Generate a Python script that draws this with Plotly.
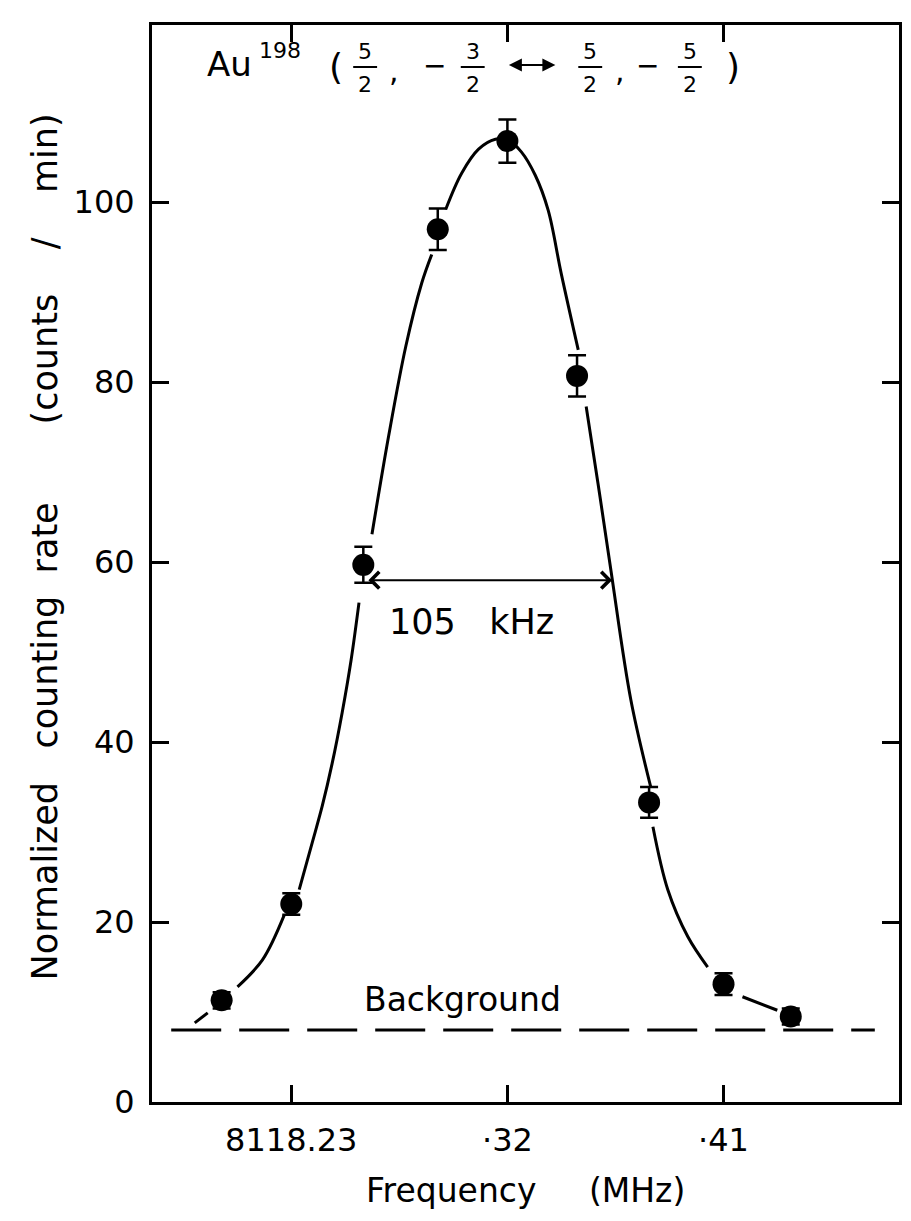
import plotly.graph_objects as go

# ---- data ----
freq = [8118.201, 8118.230, 8118.260, 8118.291, 8118.320, 8118.349, 8118.379, 8118.410, 8118.438]
rate = [11.3, 22.0, 59.7, 97.0, 106.8, 80.7, 33.3, 13.1, 9.5]
rate_err = [0.9, 1.2, 2.0, 2.3, 2.4, 2.3, 1.7, 1.2, 0.9]

# hand-drawn fitted curve (segments separated by None, drawn with gaps at the points)
curve_freq = [8118.1898, 8118.1952, None,
              8118.2076, 8118.2180, 8118.2271, None,
              8118.2333, 8118.2387, 8118.2429, 8118.2470, 8118.2512, 8118.2549, 8118.2582, None,
              8118.2636, 8118.2706, 8118.2777, 8118.2843, 8118.2885, None,
              8118.2943, 8118.3009, 8118.3080, 8118.3150, 8118.3204, 8118.3258, 8118.3316,
              8118.3370, 8118.3424, 8118.3495, None,
              8118.3528, 8118.3577, 8118.3631, 8118.3714, 8118.3797, None,
              8118.3806, 8118.3868, 8118.3951, 8118.4034, None,
              8118.4179, 8118.4324]
curve_rate = [8.8, 9.9, None,
              12.8, 15.8, 20.8, None,
              23.6, 28.8, 32.9, 37.6, 43.3, 49.1, 55.5, None,
              63.1, 74.1, 84.0, 91.0, 94.2, None,
              99.2, 103.2, 105.9, 107.0, 106.9, 105.6, 103.0,
              99.1, 92.1, 83.6, None,
              77.3, 68.8, 59.1, 44.7, 35.0, None,
              30.6, 23.6, 18.4, 15.0, None,
              11.7, 10.2]

background_freq = [8118.180, 8118.473]
background_rate = [8.0, 8.0]

fwhm_freq = [8118.2615, 8118.3636]
fwhm_rate = 58.0

x_tickvals = [8118.23, 8118.32, 8118.41]
x_ticktext = ["8118.23", "·32", "·41"]
y_tickvals = [0, 20, 40, 60, 80, 100, 120]

FONT = "DejaVu Sans"
NB = "\u00a0"

# ---- figure ----
fig = go.Figure()

fig.add_trace(go.Scatter(
    x=background_freq, y=background_rate, mode="lines",
    line=dict(color="black", width=3, dash="50px,18px"),
    hoverinfo="skip", showlegend=False))

fig.add_trace(go.Scatter(
    x=curve_freq, y=curve_rate, mode="lines",
    line=dict(color="black", width=3, shape="spline", smoothing=1.0),
    connectgaps=False, hoverinfo="skip", showlegend=False))

fig.add_trace(go.Scatter(
    x=freq, y=rate, mode="markers",
    marker=dict(color="black", size=22, symbol="circle"),
    error_y=dict(type="data", array=rate_err, visible=True,
                 color="black", thickness=2.5, width=9),
    showlegend=False))

# layout geometry (page pixels; the page body adds an 8px offset on every side)
OFF = 8
W, H = 911 - 2 * OFF, 1221 - 2 * OFF
L, R, T = 152 - OFF, 1, 25 - OFF
PW = W - L - R
PH = 1077
B = H - T - PH
X0 = 8118.172
X1 = X0 + PW / 2411.0


def px(xp):
    return (xp - OFF - L) / PW


def py(yp):
    return (H - B - (yp - OFF)) / PH


ann = []

# FWHM double arrow
ann.append(dict(x=fwhm_freq[1], y=fwhm_rate, ax=fwhm_freq[0], ay=fwhm_rate,
                xref="x", yref="y", axref="x", ayref="y", text="",
                showarrow=True, arrowside="end+start", arrowhead=4, startarrowhead=4,
                arrowsize=1.6, startarrowsize=1.6, arrowwidth=2, arrowcolor="black"))
ann.append(dict(x=8118.305, y=53.3, xref="x", yref="y",
                xanchor="center", yanchor="middle",
                text="105" + NB * 3 + "kHz", showarrow=False,
                font=dict(family=FONT, size=35, color="black")))
ann.append(dict(x=8118.3013, y=11.4, xref="x", yref="y", text="Background",
                xanchor="center", yanchor="middle",
                showarrow=False, font=dict(family=FONT, size=33, color="black")))

# axis titles
ann.append(dict(x=px(45), y=py(547), xref="paper", yref="paper", textangle=-90,
                xanchor="center", yanchor="middle",
                text="Normalized" + NB * 3 + "counting" + NB * 2 + "rate" + NB * 7
                     + "(counts" + NB * 4 + "/" + NB * 4 + "min)",
                showarrow=False, font=dict(family=FONT, size=35, color="black")))
ann.append(dict(x=px(527), y=py(1190), xref="paper", yref="paper",
                xanchor="center", yanchor="middle",
                text="Frequency" + NB * 5 + "(MHz)",
                showarrow=False, font=dict(family=FONT, size=33, color="black")))


# title: Au^198 (5/2, -3/2 <-> 5/2, -5/2)
def t(xp, yp, s, size):
    ann.append(dict(x=px(xp), y=py(yp), xref="paper", yref="paper", text=s,
                    showarrow=False, xanchor="center", yanchor="middle",
                    font=dict(family=FONT, size=size, color="black")))


t(230, 64, "Au", 34)
t(281, 50, "198", 22)
t(337, 67, "(", 36)
t(395, 70, ",", 30)
t(436, 65, "−", 28)
t(622, 70, ",", 30)
t(649, 65, "−", 28)
t(735, 67, ")", 36)

frac_x = [366, 474, 592, 692]
frac_num = ["5", "3", "5", "5"]
shapes = []
for fx, num in zip(frac_x, frac_num):
    t(fx, 51, num, 22)
    t(fx, 84, "2", 22)
    shapes.append(dict(type="line", xref="paper", yref="paper",
                       x0=px(fx - 12), x1=px(fx + 12), y0=py(67), y1=py(67),
                       line=dict(color="black", width=2)))

ann.append(dict(x=px(557), y=py(65), ax=-48, ay=0, xref="paper", yref="paper",
                text="", showarrow=True, arrowside="end+start", arrowhead=2,
                startarrowhead=2, arrowsize=1.3, startarrowsize=1.3,
                arrowwidth=2, arrowcolor="black"))

axis_common = dict(showline=True, linecolor="black", linewidth=3, mirror="ticks",
                   ticks="inside", ticklen=17, tickwidth=2.5, tickcolor="black",
                   showgrid=False, zeroline=False,
                   tickfont=dict(family=FONT, size=32, color="black"))

fig.update_layout(
    width=W, height=H,
    margin=dict(l=L, r=R, t=T, b=B, pad=0),
    paper_bgcolor="white", plot_bgcolor="white",
    xaxis=dict(range=[X0, X1], tickvals=x_tickvals, ticktext=x_ticktext,
               ticklabelstandoff=8, **axis_common),
    yaxis=dict(range=[0, 119.7], tickvals=y_tickvals,
               ticklabelstandoff=8, **axis_common),
    annotations=ann, shapes=shapes,
    showlegend=False,
)

fig.write_html("out.html")
